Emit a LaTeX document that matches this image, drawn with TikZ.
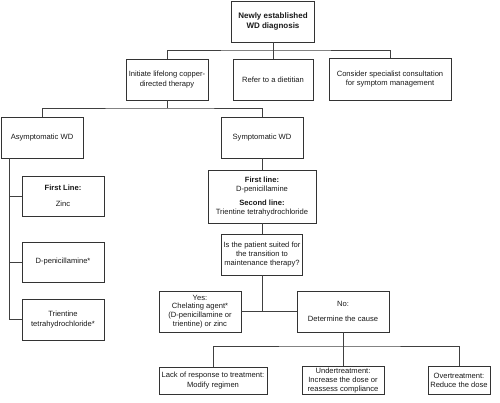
\documentclass[tikz,border=0pt]{standalone}
\usepackage{fontspec}
\setmainfont{Liberation Sans}
\begin{document}
\begin{tikzpicture}[x=1pt,y=-1pt,
  box/.style={draw=black!80, line width=0.8pt, inner sep=1pt, align=center,
    font=\fontsize{7.6}{9.3}\selectfont, text=black!90},
  tight/.style={font=\fontsize{7.6}{8.7}\selectfont},
  conn/.style={draw=black!75, line width=0.8pt}]
\useasboundingbox (0,0) rectangle (500,402);
% row 1
\node[box, minimum width=83, minimum height=41, font=\fontsize{8}{9.7}\selectfont\bfseries] (top) at (273,21.5) {Newly established\\WD diagnosis};
% row 2
\node[box, minimum width=82, minimum height=41] (init) at (167,79.5) {Initiate lifelong copper-\\directed therapy};
\node[box, minimum width=80, minimum height=41] (diet) at (273,79.5) {Refer to a dietitian};
\node[box, minimum width=122, minimum height=42] (cons) at (390,79) {Consider specialist consultation\\for symptom management};
% row 3
\node[box, minimum width=82, minimum height=41] (asym) at (42,137.5) {Asymptomatic WD};
\node[box, minimum width=82, minimum height=41] (sym) at (262,137.5) {Symptomatic WD};
% asymptomatic branch
\node[box, minimum width=82, minimum height=40] (fl) at (63,196) {\bfseries First Line:\\[7pt]Zinc};
\node[box, minimum width=82, minimum height=40] (dp) at (63,262) {D-penicillamine*};
\node[box, minimum width=82, minimum height=41] (tt) at (63,319.5) {Trientine\\tetrahydrochloride*};
% symptomatic branch
\node[box, minimum width=108, minimum height=53] (fls) at (262,196.5) {{\bfseries First line:}\\D-penicillamine\\[4.5pt]{\bfseries Second line:}\\Trientine tetrahydrochloride};
\node[box, tight, minimum width=81, minimum height=41] (q) at (262,254.5) {Is the patient suited for\\the transition to\\maintenance therapy?};
\node[box, tight, minimum width=82, minimum height=41] (yes) at (200,311.5) {Yes:\\Chelating agent*\\(D-penicillamine or\\trientine) or zinc};
\node[box, minimum width=92, minimum height=41] (no) at (343,311.5) {No:\\[6pt]Determine the cause};
% bottom row
\node[box, minimum width=108, minimum height=27] (lack) at (213,380.5) {Lack of response to treatment:\\Modify regimen};
\node[box, tight, minimum width=82, minimum height=28] (under) at (343,380.5) {Undertreatment:\\Increase the dose or\\reassess compliance};
\node[box, minimum width=62, minimum height=28] (over) at (459,380.5) {Overtreatment:\\Reduce the dose};
% connectors
\coordinate (b1) at (273,50);
\coordinate (b2) at (167,108);
\coordinate (b3) at (343,346);
\draw[conn] (top.south) -- (diet.north);
\draw[conn] (init.north) |- (b1) -| (cons.north);
\draw[conn] (init.south) -- (b2);
\draw[conn] (asym.north) |- (b2) -| (sym.north);
\draw[conn] ([xshift=9pt]asym.south west) |- (fl.west);
\draw[conn] ([xshift=9pt]asym.south west) |- (dp.west);
\draw[conn] ([xshift=9pt]asym.south west) |- (tt.west);
\draw[conn] (sym.south) -- (fls.north);
\draw[conn] (fls.south) -- (q.north);
\draw[conn] (q.south) -- (q.south |- yes.east);
\draw[conn] (yes.east) -- (no.west);
\draw[conn] (no.south) -- (under.north);
\draw[conn] (lack.north) |- (b3) -| (over.north);
\end{tikzpicture}
\end{document}
